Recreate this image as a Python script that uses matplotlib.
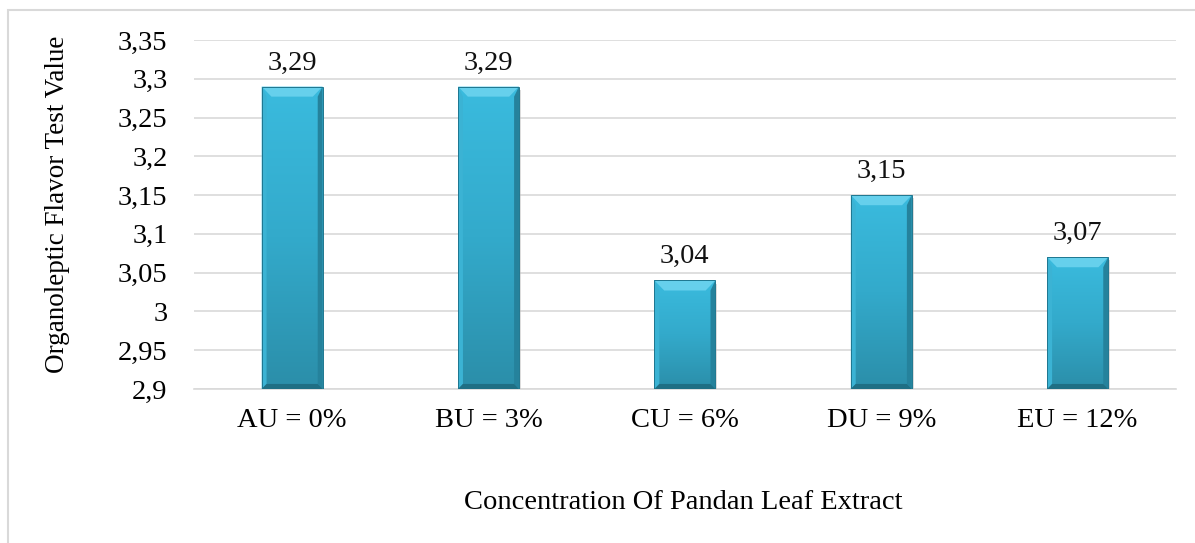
import matplotlib
matplotlib.use("Agg")
import matplotlib.pyplot as plt
import numpy as np
from matplotlib.patches import Rectangle, Polygon
from matplotlib.colors import LinearSegmentedColormap

categories = ["AU = 0%", "BU = 3%", "CU = 6%", "DU = 9%", "EU = 12%"]
values = [3.29, 3.29, 3.04, 3.15, 3.07]
value_labels = ["3,29", "3,29", "3,04", "3,15", "3,07"]
yticks = [2.9, 2.95, 3.0, 3.05, 3.1, 3.15, 3.2, 3.25, 3.3, 3.35]
ytick_labels = ["2,9", "2,95", "3", "3,05", "3,1", "3,15", "3,2", "3,25", "3,3", "3,35"]

plt.rcParams['font.family'] = ['Liberation Serif', 'DejaVu Serif']
FS = 20.5

fig = plt.figure(figsize=(11.95, 5.43), dpi=100)
ax = fig.add_axes([0.1623, 0.2836, 0.8217, 0.6427])

ymin, ymax = 2.9, 3.35
ax.set_ylim(ymin, ymax)
ax.set_xlim(-0.5, len(categories) - 0.5)

width = 0.31
x = np.arange(len(categories))
bars = ax.bar(x, [v - ymin for v in values], bottom=ymin, width=width,
              color='#31A9C9', edgecolor='none', zorder=3)

cmap = LinearSegmentedColormap.from_list('b', ['#2B8EA9', '#33AACB', '#3ABBDE'])
grad = np.linspace(0, 1, 256).reshape(-1, 1)
for b in bars:
    x0, y0 = b.get_x(), b.get_y()
    w, h = b.get_width(), b.get_height()
    top = y0 + h
    ax.add_patch(Rectangle((x0 + w * 0.03, y0 - 0.004), w, h, facecolor='#BBBBBB',
                           edgecolor='none', alpha=0.5, zorder=2.9))
    im = ax.imshow(grad, extent=[x0, x0 + w, y0, top], origin='lower',
                   cmap=cmap, aspect='auto', zorder=3.1)
    im.set_clip_path(b)
    dy = 0.013
    dx = w * 0.16
    ax.add_patch(Polygon([[x0, top], [x0 + w, top], [x0 + w - dx, top - dy], [x0 + dx, top - dy]],
                         closed=True, facecolor='#66D0EC', edgecolor='none', zorder=3.2))
    ax.add_patch(Polygon([[x0, top], [x0 + dx * 0.5, top - dy], [x0 + dx * 0.5, y0 + dy * 0.5], [x0, y0]],
                         closed=True, facecolor='#3BB3D4', edgecolor='none', zorder=3.2))
    ax.add_patch(Polygon([[x0 + w, top], [x0 + w - dx * 0.5, top - dy], [x0 + w - dx * 0.5, y0 + dy * 0.5], [x0 + w, y0]],
                         closed=True, facecolor='#25829C', edgecolor='none', zorder=3.2))
    ax.add_patch(Polygon([[x0, y0], [x0 + w, y0], [x0 + w - dx * 0.5, y0 + dy * 0.5], [x0 + dx * 0.5, y0 + dy * 0.5]],
                         closed=True, facecolor='#1F6F84', edgecolor='none', zorder=3.2))
    ax.add_patch(Rectangle((x0, y0), w, h, facecolor='none', edgecolor='#1F7790', linewidth=0.7, zorder=3.3))

for xi, v, lab in zip(x, values, value_labels):
    ax.text(xi, v + 0.022, lab, ha='center', va='baseline', fontsize=FS, color='#111111')

ax.set_yticks(yticks)
ax.set_yticklabels(ytick_labels, fontsize=FS)
ax.set_xticks(x)
ax.set_xticklabels(categories, fontsize=FS)
ax.tick_params(axis='x', length=0, pad=14)
ax.tick_params(axis='y', length=0, pad=19)
ax.grid(axis='y', color='#D9D9D9', linewidth=1.2, zorder=0)
for s in ['top', 'right', 'left']:
    ax.spines[s].set_visible(False)
ax.spines['bottom'].set_color('#D9D9D9')
ax.spines['bottom'].set_linewidth(1.2)

fig.text(58 / 1195, 1 - 204 / 543, "Organoleptic Flavor Test Value", rotation=90,
         ha='center', va='center', fontsize=19.5)
fig.text(683 / 1195, 1 - 509 / 543, "Concentration Of Pandan Leaf Extract",
         ha='center', va='baseline', fontsize=FS)

fig.add_artist(Rectangle((8 / 1195, -0.01), 1.1, 1 - 10 / 543 + 0.01, transform=fig.transFigure,
                         facecolor='none', edgecolor='#D9D9D9', linewidth=1.5))

fig.savefig("out.png", dpi=100)
